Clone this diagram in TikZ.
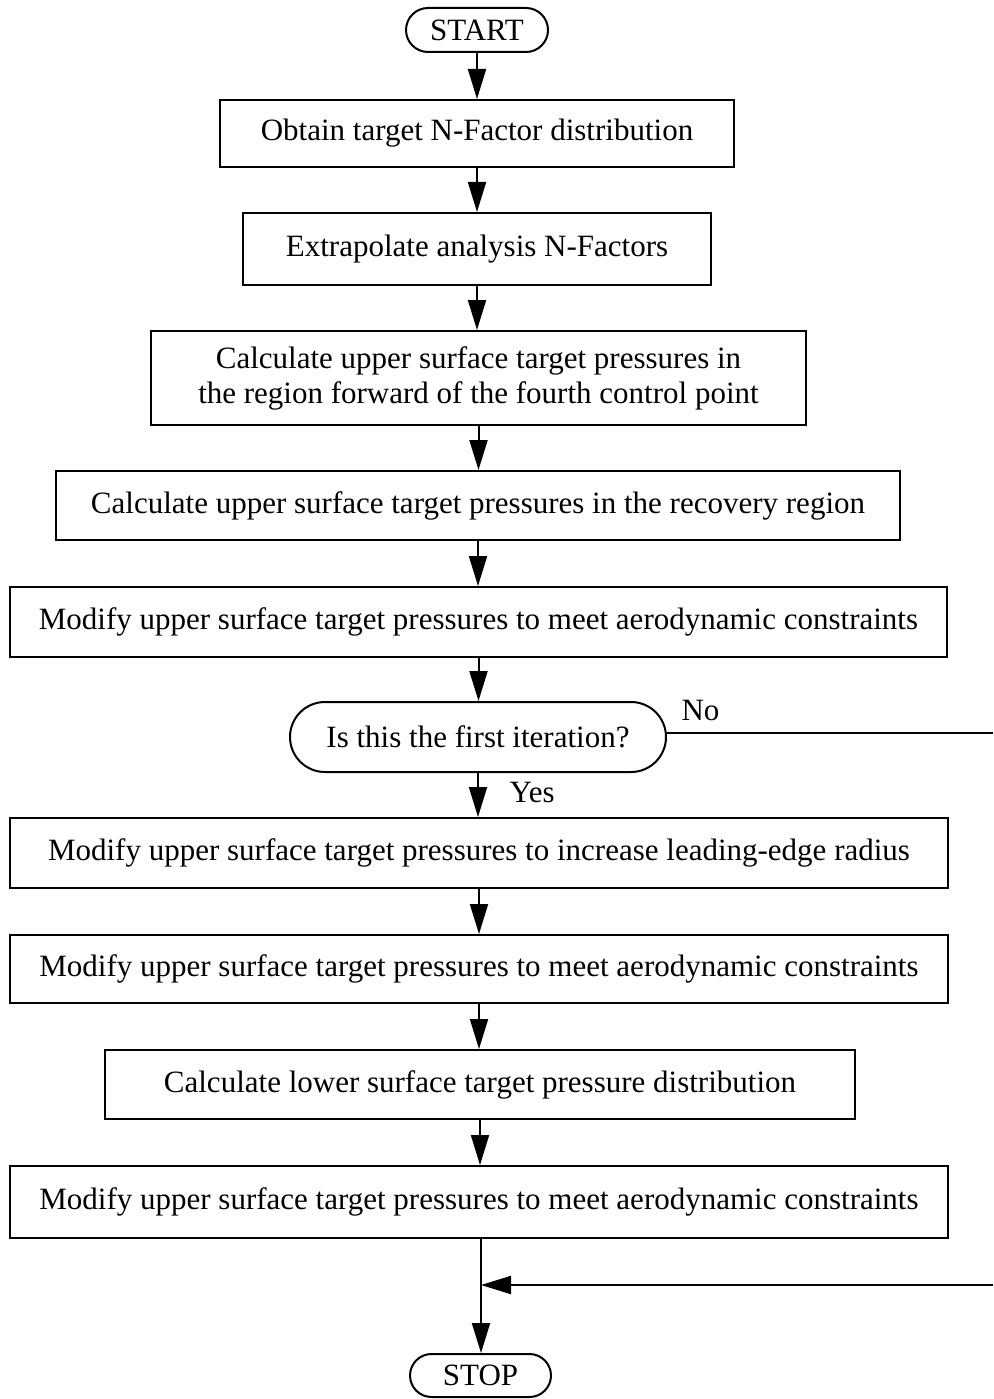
\documentclass[tikz,border=0pt]{standalone}
\usepackage{fontspec}
\setmainfont{Liberation Serif}
\usetikzlibrary{arrows.meta}
\begin{document}
\begin{tikzpicture}[x=1pt,y=1pt,
  every node/.style={font=\fontsize{31}{35}\selectfont},
  procbox/.style={draw, line width=2pt, rectangle, align=center, inner sep=0pt},
  termbox/.style={draw, line width=2pt, rectangle, align=center, inner sep=0pt},
  flow/.style={line width=2pt, -{Triangle[length=30pt,width=18pt]}},
  plain/.style={line width=2pt}]
\useasboundingbox (0,0) rectangle (993,-1399);

\node[termbox, minimum width=142pt, minimum height=44pt, rounded corners=22pt] (start) at (477,-30) {START};
\node[procbox, minimum width=514pt, minimum height=67pt] (b1) at (477,-133.5) {Obtain target N-Factor distribution};
\node[procbox, minimum width=468pt, minimum height=72pt] (b2) at (477,-249) {Extrapolate analysis N-Factors};
\node[procbox, minimum width=655pt, minimum height=94pt] (b3) at (478.5,-378) {Calculate upper surface target pressures in\\the region forward of the fourth control point};
\node[procbox, minimum width=844pt, minimum height=69pt] (b4) at (478,-505.5) {Calculate upper surface target pressures in the recovery region};
\node[procbox, minimum width=937pt, minimum height=70pt] (b5) at (478.5,-622) {Modify upper surface target pressures to meet aerodynamic constraints};
\node[termbox, minimum width=376pt, minimum height=70pt, rounded corners=35pt] (dec) at (478,-737) {Is this the first iteration?};
\node[procbox, minimum width=938pt, minimum height=70pt] (b6) at (479,-853) {Modify upper surface target pressures to increase leading-edge radius};
\node[procbox, minimum width=938pt, minimum height=68pt] (b7) at (479,-969) {Modify upper surface target pressures to meet aerodynamic constraints};
\node[procbox, minimum width=750pt, minimum height=69pt] (b8) at (480,-1084.5) {Calculate lower surface target pressure distribution};
\node[procbox, minimum width=938pt, minimum height=72pt] (b9) at (479,-1202) {Modify upper surface target pressures to meet aerodynamic constraints};
\node[termbox, minimum width=141pt, minimum height=43pt, rounded corners=21.5pt] (stop) at (480.5,-1375.5) {STOP};

\node[anchor=west] (nolab) at (678,-710) {No};
\node[anchor=west] (yeslab) at (506,-792) {Yes};

\coordinate (noend) at (993,-733);
\coordinate (retstart) at (993,-1285);
\coordinate (join) at (481,-1285);

\draw[flow] (start.south) -- (start.south |- b1.north);
\draw[flow] (b1.south) -- (b1.south |- b2.north);
\draw[flow] (b2.south) -- (b2.south |- b3.north);
\draw[flow] (b3.south) -- (b3.south |- b4.north);
\draw[flow] (b4.south) -- (b4.south |- b5.north);
\draw[flow] (b5.south) -- (b5.south |- dec.north);
\draw[flow] (dec.south) -- (dec.south |- b6.north);
\draw[flow] (b6.south) -- (b6.south |- b7.north);
\draw[flow] (b7.south) -- (b7.south |- b8.north);
\draw[flow] (b8.south) -- (b8.south |- b9.north);
\draw[flow] (join |- b9.south) -- (join |- stop.north);
\draw[plain] (dec.east |- noend) -- (noend);
\draw[flow] (retstart) -- (join);
\end{tikzpicture}
\end{document}
